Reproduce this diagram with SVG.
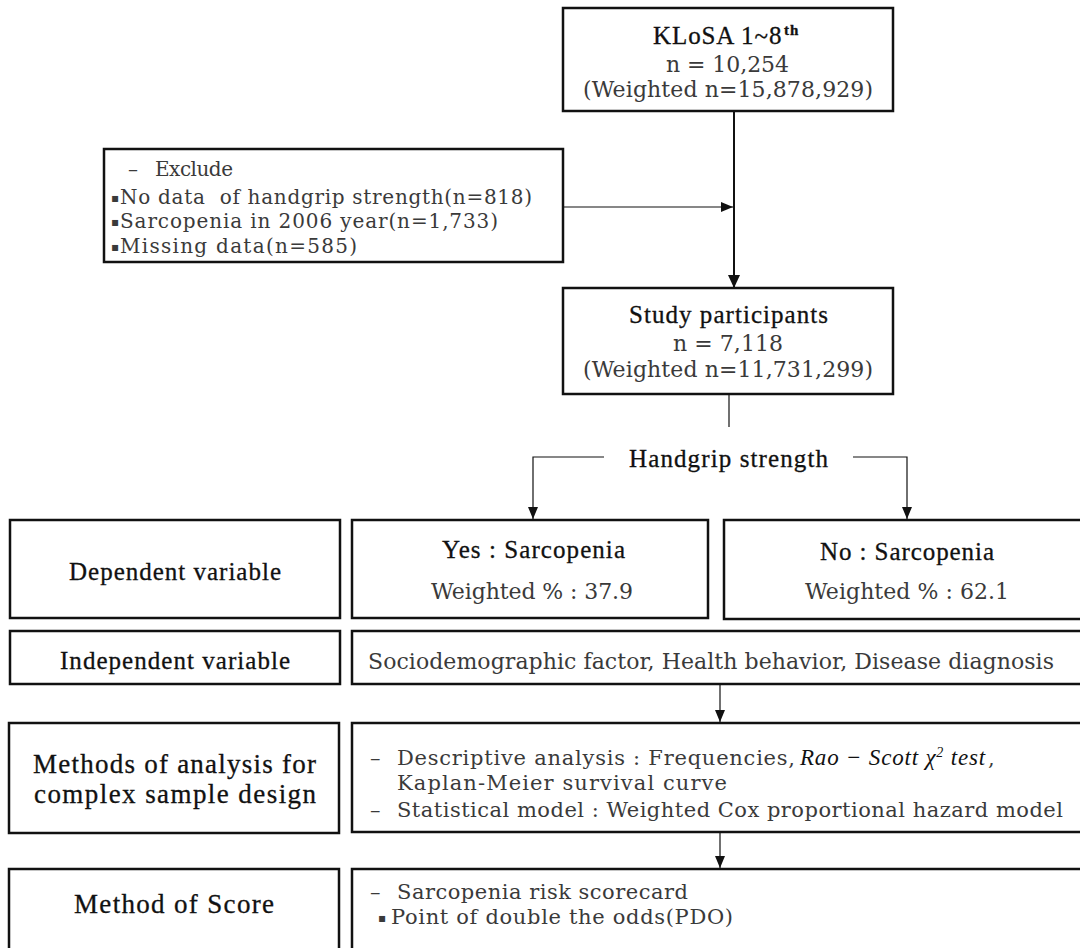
<svg xmlns="http://www.w3.org/2000/svg" width="1080" height="948" viewBox="0 0 1080 948">
<style>
.box{fill:#fff;stroke:#111;stroke-width:2.5}
.lbl{font-family:"Liberation Serif",serif;font-size:25px;fill:#111;stroke:#111;stroke-width:0.3}
.big{font-size:27px}
.txt{font-family:"DejaVu Serif","Liberation Serif",serif;font-size:22px;fill:#3a3a3a}
.sm{font-size:20px}
.md{font-size:21px}
.bul{font-size:12px}
.it{font-family:"Liberation Serif",serif;font-style:italic;font-size:23px;fill:#111}
.conn{stroke:#111;fill:none}
</style>
<defs>
<marker id="ahb" markerUnits="userSpaceOnUse" markerWidth="13" markerHeight="12" viewBox="0 0 13 12" refX="13" refY="6" orient="auto"><path d="M0,0 L13,6 L0,12 z" fill="#111"/></marker>
<marker id="ahs" markerUnits="userSpaceOnUse" markerWidth="12" markerHeight="10" viewBox="0 0 12 10" refX="12" refY="5" orient="auto"><path d="M0,0 L12,5 L0,10 z" fill="#111"/></marker>
</defs>
<rect width="1080" height="948" fill="#fff"/>

<g id="connectors">
<line class="conn" x1="734" y1="111" x2="734" y2="288" stroke-width="2" marker-end="url(#ahb)"/>
<line class="conn" x1="563" y1="207" x2="733" y2="207" stroke-width="1.2" marker-end="url(#ahs)"/>
<line class="conn" x1="729" y1="394" x2="729" y2="427" stroke-width="1.2"/>
<polyline class="conn" points="604,457 533,457 533,519" stroke-width="1.2" marker-end="url(#ahs)"/>
<polyline class="conn" points="853,457 907,457 907,519" stroke-width="1.2" marker-end="url(#ahs)"/>
<line class="conn" x1="720" y1="684" x2="720" y2="722" stroke-width="1.2" marker-end="url(#ahs)"/>
<line class="conn" x1="720" y1="832" x2="720" y2="868" stroke-width="1.2" marker-end="url(#ahs)"/>
</g>

<g id="klosa">
<rect class="box" x="563" y="8" width="330" height="103"/>
<text class="lbl" x="653" y="44" letter-spacing="0.9">KLoSA 1~8<tspan x="784" dy="-9" font-size="15" font-weight="bold">th</tspan></text>
<text class="txt" x="666" y="72" textLength="123">n = 10,254</text>
<text class="txt" x="583" y="97" textLength="290">(Weighted n=15,878,929)</text>
</g>

<g id="exclude">
<rect class="box" x="104" y="149" width="459" height="113"/>
<text class="txt sm" x="128" y="176">–<tspan x="155" textLength="78">Exclude</tspan></text>
<text class="txt sm" x="111" y="204" xml:space="preserve"><tspan class="bul" dy="-2">▪</tspan><tspan x="120" dy="2" textLength="412">No data  of handgrip strength(n=818)</tspan></text>
<text class="txt sm" x="111" y="228"><tspan class="bul" dy="-2">▪</tspan><tspan x="120" dy="2" textLength="378">Sarcopenia in 2006 year(n=1,733)</tspan></text>
<text class="txt sm" x="111" y="253"><tspan class="bul" dy="-2">▪</tspan><tspan x="120" dy="2" textLength="237">Missing data(n=585)</tspan></text>
</g>

<g id="participants">
<rect class="box" x="563" y="288" width="330" height="106"/>
<text class="lbl" x="629" y="323" textLength="199">Study participants</text>
<text class="txt" x="673" y="351" textLength="110">n = 7,118</text>
<text class="txt" x="583" y="377" textLength="290">(Weighted n=11,731,299)</text>
</g>

<g id="handgrip">
<text class="lbl" x="629" y="467" textLength="199">Handgrip strength</text>
</g>

<g id="dependent">
<rect class="box" x="10" y="520" width="330" height="98"/>
<text class="lbl" x="69" y="580" textLength="212">Dependent variable</text>
</g>

<g id="yes">
<rect class="box" x="352" y="520" width="356" height="98"/>
<text class="lbl" x="442" y="558" textLength="183">Yes : Sarcopenia</text>
<text class="txt" x="431" y="599" textLength="202">Weighted % : 37.9</text>
</g>

<g id="no">
<rect class="box" x="724" y="520" width="370" height="99"/>
<text class="lbl" x="820" y="560" textLength="174">No : Sarcopenia</text>
<text class="txt" x="805" y="599" textLength="204">Weighted % : 62.1</text>
</g>

<g id="independent">
<rect class="box" x="10" y="631" width="330" height="53"/>
<text class="lbl" x="60" y="669" textLength="230">Independent variable</text>
</g>

<g id="factors">
<rect class="box" x="352" y="631" width="742" height="53"/>
<text class="txt" x="368" y="669" textLength="686">Sociodemographic factor, Health behavior, Disease diagnosis</text>
</g>

<g id="methods">
<rect class="box" x="9" y="723" width="330" height="110"/>
<text class="lbl big" x="33" y="773" textLength="283">Methods of analysis for</text>
<text class="lbl big" x="34" y="803" textLength="282">complex sample design</text>
</g>

<g id="analysis">
<rect class="box" x="352" y="723" width="742" height="109"/>
<text class="txt md" x="370" y="765">–<tspan x="397" textLength="398">Descriptive analysis : Frequencies,</tspan></text>
<text class="it" x="800" y="765" letter-spacing="0.8">Rao − Scott χ<tspan dy="-8" font-size="14">2</tspan><tspan dy="8"> test</tspan></text>
<text class="txt md" x="988" y="765">,</text>
<text class="txt md" x="397" y="790" textLength="330">Kaplan-Meier survival curve</text>
<text class="txt md" x="370" y="817">–<tspan x="397" textLength="666">Statistical model : Weighted Cox proportional hazard model</tspan></text>
</g>

<g id="score">
<rect class="box" x="9" y="869" width="330" height="100"/>
<text class="lbl big" x="74" y="913" textLength="200">Method of Score</text>
</g>

<g id="scorecard">
<rect class="box" x="352" y="869" width="742" height="100"/>
<text class="txt md" x="370" y="899">–<tspan x="397" textLength="291">Sarcopenia risk scorecard</tspan></text>
<text class="txt md" x="378" y="924"><tspan class="bul" dy="-2">▪</tspan><tspan x="391" dy="2" textLength="342">Point of double the odds(PDO)</tspan></text>
</g>
</svg>
